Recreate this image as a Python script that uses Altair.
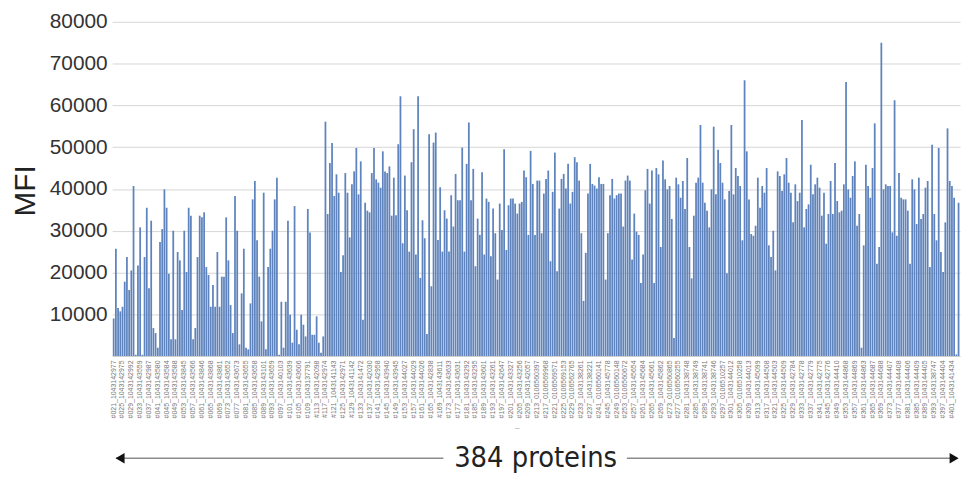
import altair as alt
import pandas as pd

# MFI per protein (384 proteins, left to right)
mfi_part1 = [9000, 25700, 11500, 10700, 11800, 17800, 23700, 15800, 20500, 40700,
             300, 21700, 30800, 300, 23700, 35500, 16200, 32400, 6700, 5500,
             2000, 27300, 30400, 39900, 35500, 19700, 4000, 30000, 4000, 24900,
             22900, 11000, 30000, 20100, 35500, 33600, 4000, 6700, 23700, 33600,
             33200, 34400, 21300, 19400, 11800, 17000, 11800, 24900, 11800, 19000,
             19000, 33200, 22900, 12200, 5500, 38300, 30000, 2800, 15000, 25700,
             2000, 1600, 12600, 37500, 41900, 27700, 19000, 8300, 39100, 1600,
             21300, 25700, 30000, 37500, 42700, 300, 13000, 2000, 13000, 32400,
             9900, 3200, 35900, 6300, 2800, 9900, 7500, 4700, 35200, 29600,
             5100, 5100, 9500, 3200, 800, 4700, 56100, 34000, 46200, 51000,
             38300, 43500, 39100, 20100, 24100, 43800, 39100, 28400, 41100, 44200,
             49800, 38700, 46600, 8700, 36700, 34800, 34400, 43800, 49800, 42300,
             41500, 40300, 49000, 44200, 43800, 45400, 33600, 42700]
mfi_part2 = [33700, 50700, 62200, 27000, 43200, 34900, 25000, 46400, 54300, 24300,
             62200, 18700, 32500, 28200, 5300, 53100, 16700, 51100, 53500, 27800,
             40400, 25000, 34900, 32900, 25000, 38500, 31000, 43600, 37300, 37300,
             49900, 25000, 46000, 55900, 37300, 44800, 21500, 32900, 29000, 44000,
             24300, 37700, 36900, 23900, 35300, 29400, 18300, 36500, 30200, 49500,
             25400, 36100, 37700, 37700, 36500, 34100, 36500, 36900, 44400, 42800,
             29000, 49100, 41200, 29000, 42000, 42000, 29400, 38900, 42400, 44400,
             22700, 39300, 48700, 20300, 35300, 42400, 43600, 40100, 46000, 36500,
             39300, 47600, 46400, 42000, 29400, 13200, 24700, 38900, 46000, 41200,
             40800, 40100, 42800, 41200, 41200, 18300, 29400, 38500, 42400, 37700,
             38500, 38900, 38900, 31000, 42000, 43200, 42000, 23100, 34100, 29800,
             29000, 17500, 24300, 39700, 44800, 36500, 44400, 17500]
mfi_part3 = [45000, 43500, 26100, 46800, 42300, 39900, 40700, 32800, 4300, 42700,
             41100, 37900, 41900, 35200, 47400, 26100, 18600, 33600, 41500, 42700,
             55300, 41500, 36700, 34800, 30800, 39900, 54900, 38700, 49400, 46200,
             41500, 37500, 19800, 39500, 55300, 38700, 45000, 43100, 40700, 27700,
             66000, 49000, 37500, 29200, 28800, 31200, 42700, 35500, 40700, 39100,
             45000, 26500, 23700, 30000, 20500, 44200, 43100, 39500, 43500, 47400,
             41500, 39100, 32000, 41100, 37100, 39100, 56500, 30800, 35200, 36300,
             45800, 38700, 41100, 42700, 40300, 33600, 39100, 26900, 34000, 41900,
             34000, 46200, 37100, 34400, 34800, 41100, 65600, 39900, 37900, 43100,
             46600, 31200, 34000, 2000, 26500, 45800, 40700, 37900, 45000, 55700,
             22100, 26100, 75000, 39900, 41100, 40700, 40700, 29600, 61200, 28800,
             43800, 37900, 37500, 37500, 34800, 22100, 42300, 39900, 31600, 42700,
             32800, 34000, 40300, 41900, 21300, 50600, 34000, 27700, 49800, 24900,
             20100, 32000, 54500, 41900, 40700, 37900, 400, 36700]
mfi = mfi_part1 + mfi_part2 + mfi_part3

# every 4th protein is labelled on the x axis
tick_labels = [
    "#021_1043142977", "#025_1043142975", "#029_1043142992", "#033_1043143559",
    "#037_1043142987", "#041_1043143580", "#045_1043143584", "#049_1043143588",
    "#053_1043143845", "#057_1043143566", "#061_1043143846", "#065_1043143868",
    "#069_1043143861", "#073_1043143652", "#077_1043143673", "#081_1043143655",
    "#085_1043143658", "#089_1043143101", "#093_1043143659", "#097_1043140103",
    "#101_1043143639", "#105_1043143606", "#109_1043137791", "#113_1043142098",
    "#117_1043142974", "#121_1043141143", "#125_1043142971", "#129_1043141142",
    "#133_1043141472", "#137_1043142030", "#141_1043142958", "#145_1043143940",
    "#149_1043143945", "#153_1043144027", "#157_1043144029", "#161_1043144026",
    "#165_1043142838", "#169_1043143611", "#173_1043143633", "#177_1043143631",
    "#181_1043143292", "#185_1043143295", "#189_1043143601", "#193_1043143261",
    "#197_1043142647", "#201_1043143327", "#205_1043143256", "#209_1043142057",
    "#213_0106560397", "#217_0106569968", "#221_0106569571", "#225_0106569153",
    "#229_0106562765", "#233_1043138261", "#237_1043138221", "#241_0106560141",
    "#245_1043145778", "#249_0106560148", "#253_0106560672", "#257_1043145654",
    "#261_1043145684", "#265_1043145661", "#269_1043145862", "#273_0106560865",
    "#277_0106560255", "#281_1043138748", "#285_1043138749", "#289_1043138741",
    "#293_1043138746", "#297_0106510257", "#301_1043144012", "#305_0106510258",
    "#309_1043144013", "#313_1043145099", "#317_1043144508", "#321_1043144503",
    "#325_1043144509", "#329_1043142784", "#333_1043142778", "#337_1043142779",
    "#341_1043142775", "#345_1043142776", "#349_1043144410", "#353_1043144868",
    "#357_1043144869", "#361_1043144863", "#365_1043144687", "#369_1043144688",
    "#373_1043144407", "#377_1043144408", "#381_1043144406", "#385_1043144409",
    "#389_1043144405", "#393_1043138747", "#397_1043144404", "#401_1043141434",
]
y_ticks = [10000, 20000, 30000, 40000, 50000, 60000, 70000, 80000]
bottom_text = "384 proteins"

df = pd.DataFrame({"idx": list(range(len(mfi))), "MFI": mfi})
label_positions = [i * 4 for i in range(len(tick_labels))]
label_expr = "[" + ",".join("'" + s + "'" for s in tick_labels) + "][floor(datum.value / 4)]"

W, H = 855, 337
FONT = "Liberation Sans"

bars = alt.Chart(df).mark_bar(color="#5f84bd").encode(
    x=alt.X("idx:O",
            scale=alt.Scale(paddingInner=0.2, paddingOuter=0.3),
            axis=alt.Axis(values=label_positions, labelExpr=label_expr,
                          labelAngle=-90, labelFontSize=7, labelColor="#777",
                          labelFont=FONT, labelPadding=4, ticks=False,
                          domainColor="#cfcfcf", labelOverlap=False,
                          title="–", titleFontSize=8, titleColor="#999",
                          titleFontWeight="normal", titleX=408, titleY=68)),
    y=alt.Y("MFI:Q",
            scale=alt.Scale(domain=[0, 80000], nice=False),
            axis=alt.Axis(values=y_ticks, format="d", labelFontSize=21,
                          labelColor="#333", labelFont=FONT, labelPadding=5,
                          ticks=False, domain=False, gridColor="#d6d6d6",
                          title="MFI", titleFontSize=30, titleFont=FONT,
                          titleFontWeight="normal", titleColor="#222",
                          titleAngle=-90, titleX=-87, titleY=170,
                          titleAlign="center", titleBaseline="middle")),
)

one = pd.DataFrame({"t": [bottom_text]})
line_y = 440
left_line = alt.Chart(one).mark_rule(color="#8c8c8c", strokeWidth=1.6).encode(
    x=alt.value(4), x2=alt.value(334), y=alt.value(line_y))
right_line = alt.Chart(one).mark_rule(color="#8c8c8c", strokeWidth=1.6).encode(
    x=alt.value(519), x2=alt.value(851), y=alt.value(line_y))
left_head = alt.Chart(one).mark_point(shape="triangle-left", filled=True, color="#111",
                                      size=110, opacity=1).encode(
    x=alt.value(8), y=alt.value(line_y))
right_head = alt.Chart(one).mark_point(shape="triangle-right", filled=True, color="#111",
                                       size=110, opacity=1).encode(
    x=alt.value(849), y=alt.value(line_y))
label = alt.Chart(one).mark_text(font="DejaVu Sans Condensed, Liberation Sans", fontSize=29,
                                 color="#222", baseline="middle", align="center").encode(
    x=alt.value(427), y=alt.value(line_y), text="t:N")

chart = alt.layer(bars, left_line, right_line, left_head, right_head, label).properties(
    width=W, height=H,
    autosize=alt.AutoSizeParams(type="none"),
    padding={"left": 105, "top": 12, "right": 12, "bottom": 118},
    background="white",
).configure_view(stroke=None)

chart.save("out.html", embed_options={"renderer": "svg", "actions": False})
